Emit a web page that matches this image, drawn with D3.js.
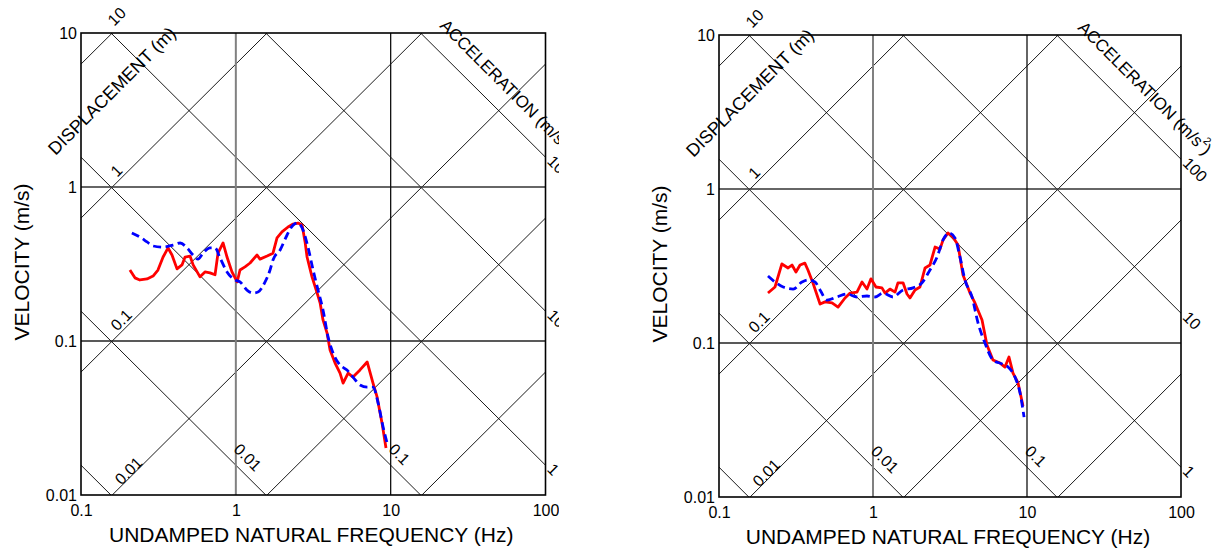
<!DOCTYPE html>
<html><head><meta charset="utf-8">
<script src="https://cdn.jsdelivr.net/npm/d3@7"></script>
<style>
body{margin:0;background:#fff}
text{font-family:"Liberation Sans",Arial,Helvetica,sans-serif;fill:#000}
</style>
</head><body>
<svg id="c" width="1221" height="550"></svg>
<script>
// ---------- axis ticks ----------
const freqTicks = [0.1, 1, 10, 100];
const freqTickLabels = ["0.1", "1", "10", "100"];
const velTicks = [0.01, 0.1, 1, 10];
const velTickLabels = ["0.01", "0.1", "1", "10"];

// ---------- tripartite grid values ----------
const dispLines = [10, 1, 0.1, 0.01, 0.001, 0.0001];          // m
const dispLabelValues = [10, 1, 0.1, 0.01];
const dispLabelTexts = ["10", "1", "0.1", "0.01"];
const accLines = [100, 10, 1, 0.1, 0.01, 0.001];              // g
const accEdgeValues = [100, 10, 1];
const accEdgeTexts = ["100", "10", "1"];
const accBottomValues = [0.01, 0.1];
const accBottomFreqs = [1, 10];
const accBottomTexts = ["0.01", "0.1"];

// ---------- left chart series ----------
const leftRedF = [0.207,0.223,0.240,0.267,0.292,0.314,0.339,0.365,0.387,0.417,0.449,0.470,0.506,0.530,0.587,0.632,0.681,0.734,0.767,0.827,0.877,0.944,1.02,1.064,1.146,1.236,1.371,1.432,1.592,1.738,1.845,1.986,2.173,2.344,2.523,2.679,2.80,2.884,3.105,3.35,3.50,3.656,3.88,4.06,4.375,4.71,4.93,5.31,5.71,6.34,7.05,7.69,8.17,8.79,9.33];
const leftRedV = [0.289,0.257,0.249,0.253,0.264,0.289,0.351,0.402,0.362,0.294,0.312,0.351,0.356,0.312,0.261,0.281,0.277,0.269,0.372,0.433,0.351,0.281,0.242,0.289,0.303,0.321,0.362,0.340,0.356,0.372,0.467,0.511,0.550,0.575,0.583,0.566,0.440,0.351,0.261,0.205,0.177,0.137,0.113,0.0875,0.0719,0.0619,0.0533,0.0619,0.0583,0.0649,0.0731,0.0533,0.0433,0.0294,0.0202];
const leftBlueF = [0.213,0.240,0.267,0.292,0.339,0.393,0.437,0.484,0.530,0.570,0.614,0.681,0.734,0.791,0.877,0.989,1.064,1.180,1.291,1.390,1.545,1.663,1.738,1.932,2.143,2.344,2.523,2.716,2.924,3.155,3.396,3.656,3.945,4.246,4.71,5.22,5.71,6.34,7.05,7.69,8.30,8.93,9.48];
const leftBlueV = [0.502,0.473,0.440,0.414,0.407,0.420,0.433,0.402,0.361,0.340,0.372,0.402,0.402,0.346,0.281,0.249,0.242,0.214,0.205,0.208,0.242,0.289,0.336,0.390,0.488,0.566,0.584,0.526,0.407,0.289,0.214,0.159,0.106,0.0836,0.0698,0.0649,0.0583,0.0518,0.0502,0.0502,0.0395,0.0277,0.0218];

// ---------- right chart series ----------
const rightRedF = [0.208,0.231,0.256,0.281,0.298,0.316,0.336,0.361,0.378,0.407,0.453,0.488,0.542,0.593,0.658,0.710,0.787,0.849,0.914,0.970,1.045,1.143,1.197,1.288,1.390,1.452,1.567,1.663,1.738,1.875,2.018,2.178,2.344,2.529,2.723,2.851,3.069,3.304,3.565,3.837,4.266,4.592,5.105,5.495,6.012,6.683,7.194,7.638,8.11,8.75,9.42];
const rightRedV = [0.211,0.231,0.326,0.307,0.321,0.289,0.321,0.330,0.298,0.246,0.179,0.185,0.182,0.171,0.196,0.211,0.214,0.249,0.224,0.261,0.231,0.228,0.211,0.224,0.214,0.246,0.246,0.208,0.196,0.221,0.231,0.307,0.321,0.420,0.407,0.467,0.518,0.488,0.433,0.277,0.211,0.182,0.141,0.0970,0.0776,0.0741,0.0698,0.0811,0.0638,0.0550,0.0390];
const rightBlueF = [0.208,0.231,0.261,0.303,0.346,0.378,0.420,0.453,0.502,0.583,0.678,0.787,0.914,1.030,1.161,1.349,1.567,1.820,2.080,2.344,2.606,2.851,3.119,3.404,3.673,3.954,4.395,4.808,5.333,6.012,6.887,7.534,8.356,9.016,9.57];
const rightBlueV = [0.272,0.249,0.231,0.224,0.249,0.257,0.249,0.221,0.190,0.199,0.208,0.199,0.202,0.199,0.211,0.199,0.221,0.228,0.246,0.298,0.361,0.467,0.518,0.481,0.361,0.257,0.199,0.135,0.100,0.0776,0.0731,0.0698,0.0601,0.0473,0.0330];

const G = 9.81, TWO_PI = 2 * Math.PI;
const svg = d3.select("#c");
const defs = svg.append("defs");

function zip(a, b) { return a.map((v, i) => [v, b[i]]); }

function drawChart(id, box, clipW, red, blue) {
  defs.append("clipPath").attr("id", id + "-all")
    .append("rect").attr("x", box.l - 100).attr("y", 0).attr("width", clipW).attr("height", 550);
  defs.append("clipPath").attr("id", id + "-plot")
    .append("rect").attr("x", box.x0).attr("y", box.y0)
    .attr("width", box.x1 - box.x0).attr("height", box.y1 - box.y0);

  const g = svg.append("g").attr("clip-path", `url(#${id}-all)`);
  const x = d3.scaleLog().domain([0.1, 100]).range([box.x0, box.x1]);
  const y = d3.scaleLog().domain([0.01, 10]).range([box.y1, box.y0]);

  const plot = g.append("g").attr("clip-path", `url(#${id}-plot)`);
  // displacement lines  V = 2*pi*f*D
  dispLines.forEach(D => {
    plot.append("line")
      .attr("x1", x(0.01)).attr("y1", y(TWO_PI * 0.01 * D))
      .attr("x2", x(1000)).attr("y2", y(TWO_PI * 1000 * D))
      .attr("stroke", "#000").attr("stroke-width", 0.9);
  });
  // acceleration lines  V = A*g/(2*pi*f)
  accLines.forEach(A => {
    plot.append("line")
      .attr("x1", x(0.01)).attr("y1", y(A * G / (TWO_PI * 0.01)))
      .attr("x2", x(1000)).attr("y2", y(A * G / (TWO_PI * 1000)))
      .attr("stroke", "#000").attr("stroke-width", 0.9);
  });
  // grid
  plot.append("line").attr("x1", box.x0).attr("x2", box.x1).attr("y1", y(1)).attr("y2", y(1))
    .attr("stroke", "#333").attr("stroke-width", 1.5);
  plot.append("line").attr("x1", box.x0).attr("x2", box.x1).attr("y1", y(0.1)).attr("y2", y(0.1))
    .attr("stroke", "#222").attr("stroke-width", 1.3);
  plot.append("line").attr("x1", x(1)).attr("x2", x(1)).attr("y1", box.y0).attr("y2", box.y1)
    .attr("stroke", "#808080").attr("stroke-width", 2);
  plot.append("line").attr("x1", x(10)).attr("x2", x(10)).attr("y1", box.y0).attr("y2", box.y1)
    .attr("stroke", "#111").attr("stroke-width", 1.3);

  // curves
  const line = d3.line().x(d => x(d[0])).y(d => y(d[1]));
  plot.append("path").datum(zip(red[0], red[1])).attr("d", line)
    .attr("fill", "none").attr("stroke", "#ff0000").attr("stroke-width", 2.8)
    .attr("stroke-linejoin", "round");
  plot.append("path").datum(zip(blue[0], blue[1]))
    .attr("d", line.curve(d3.curveMonotoneX))
    .attr("fill", "none").attr("stroke", "#0000ff").attr("stroke-width", 2.8)
    .attr("stroke-dasharray", "8,4.5");

  // border
  g.append("rect").attr("x", box.x0).attr("y", box.y0)
    .attr("width", box.x1 - box.x0).attr("height", box.y1 - box.y0)
    .attr("fill", "none").attr("stroke", "#000").attr("stroke-width", 1.6);

  // axes
  const xa = g.append("g").attr("transform", `translate(0,${box.y1})`)
    .call(d3.axisBottom(x).tickValues(freqTicks).tickFormat((d, i) => freqTickLabels[i]).tickSize(0).tickPadding(10));
  xa.select(".domain").remove();
  xa.selectAll("text").attr("font-size", 16).attr("font-family", "Liberation Sans, Arial, sans-serif");
  const ya = g.append("g").attr("transform", `translate(${box.x0},0)`)
    .call(d3.axisLeft(y).tickValues(velTicks).tickFormat((d, i) => velTickLabels[i]).tickSize(0).tickPadding(4));
  ya.select(".domain").remove();
  ya.selectAll("text").attr("font-size", 16).attr("font-family", "Liberation Sans, Arial, sans-serif");

  // axis titles
  g.append("text").attr("x", (box.x0 + box.x1) / 2 - 2).attr("y", box.y1 + 47)
    .attr("text-anchor", "middle").attr("font-size", 21).text("UNDAMPED NATURAL FREQUENCY (Hz)");
  g.append("text").attr("transform", `translate(${box.x0 - 52},${(box.y0 + box.y1) / 2 - 2}) rotate(-90)`)
    .attr("text-anchor", "middle").attr("font-size", 21).text("VELOCITY (m/s)");

  // diagonal titles
  g.append("text").attr("transform", `translate(${box.x0 + 31},${box.y0 + 58}) rotate(-45)`)
    .attr("text-anchor", "middle").attr("dominant-baseline", "central").attr("font-size", 18)
    .text("DISPLACEMENT (m)");
  const at = g.append("text").attr("transform", `translate(${box.x0 + 426},${box.y0 + 53}) rotate(45)`)
    .attr("text-anchor", "middle").attr("dominant-baseline", "central").attr("font-size", 17);
  at.append("tspan").text("ACCELERATION (m/s");
  at.append("tspan").attr("font-size", 11).attr("dy", -7).text("2");
  at.append("tspan").attr("dy", 7).text(")");

  // displacement labels
  dispLabelValues.forEach((D, i) => {
    const f = 1 / TWO_PI;
    g.append("text").attr("transform", `translate(${x(f)},${y(TWO_PI * f * D)}) rotate(-45)`)
      .attr("x", i === 0 ? 6 : (i === 3 ? 13 : 10)).attr("y", i === 3 ? 0 : -3)
      .attr("font-size", 16).text(dispLabelTexts[i]);
  });
  // acceleration labels at right edge
  accEdgeValues.forEach((A, i) => {
    g.append("text").attr("transform", `translate(${x(100)},${y(A * G / (TWO_PI * 100))}) rotate(45)`)
      .attr("x", 4).attr("y", 3).attr("font-size", 16).text(accEdgeTexts[i]);
  });
  // acceleration labels at bottom
  accBottomValues.forEach((A, i) => {
    const f = accBottomFreqs[i];
    g.append("text").attr("transform", `translate(${x(f) - 3},${y(A * G / (TWO_PI * f)) - 15}) rotate(45)`)
      .attr("font-size", 16).text(accBottomTexts[i]);
  });
}

drawChart("L", {l: 100, x0: 81, x1: 545.5, y0: 33, y1: 495}, 559, [leftRedF, leftRedV], [leftBlueF, leftBlueV]);
drawChart("R", {l: 100, x0: 719, x1: 1181, y0: 35, y1: 497}, 1221, [rightRedF, rightRedV], [rightBlueF, rightBlueV]);
</script>
</body></html>
